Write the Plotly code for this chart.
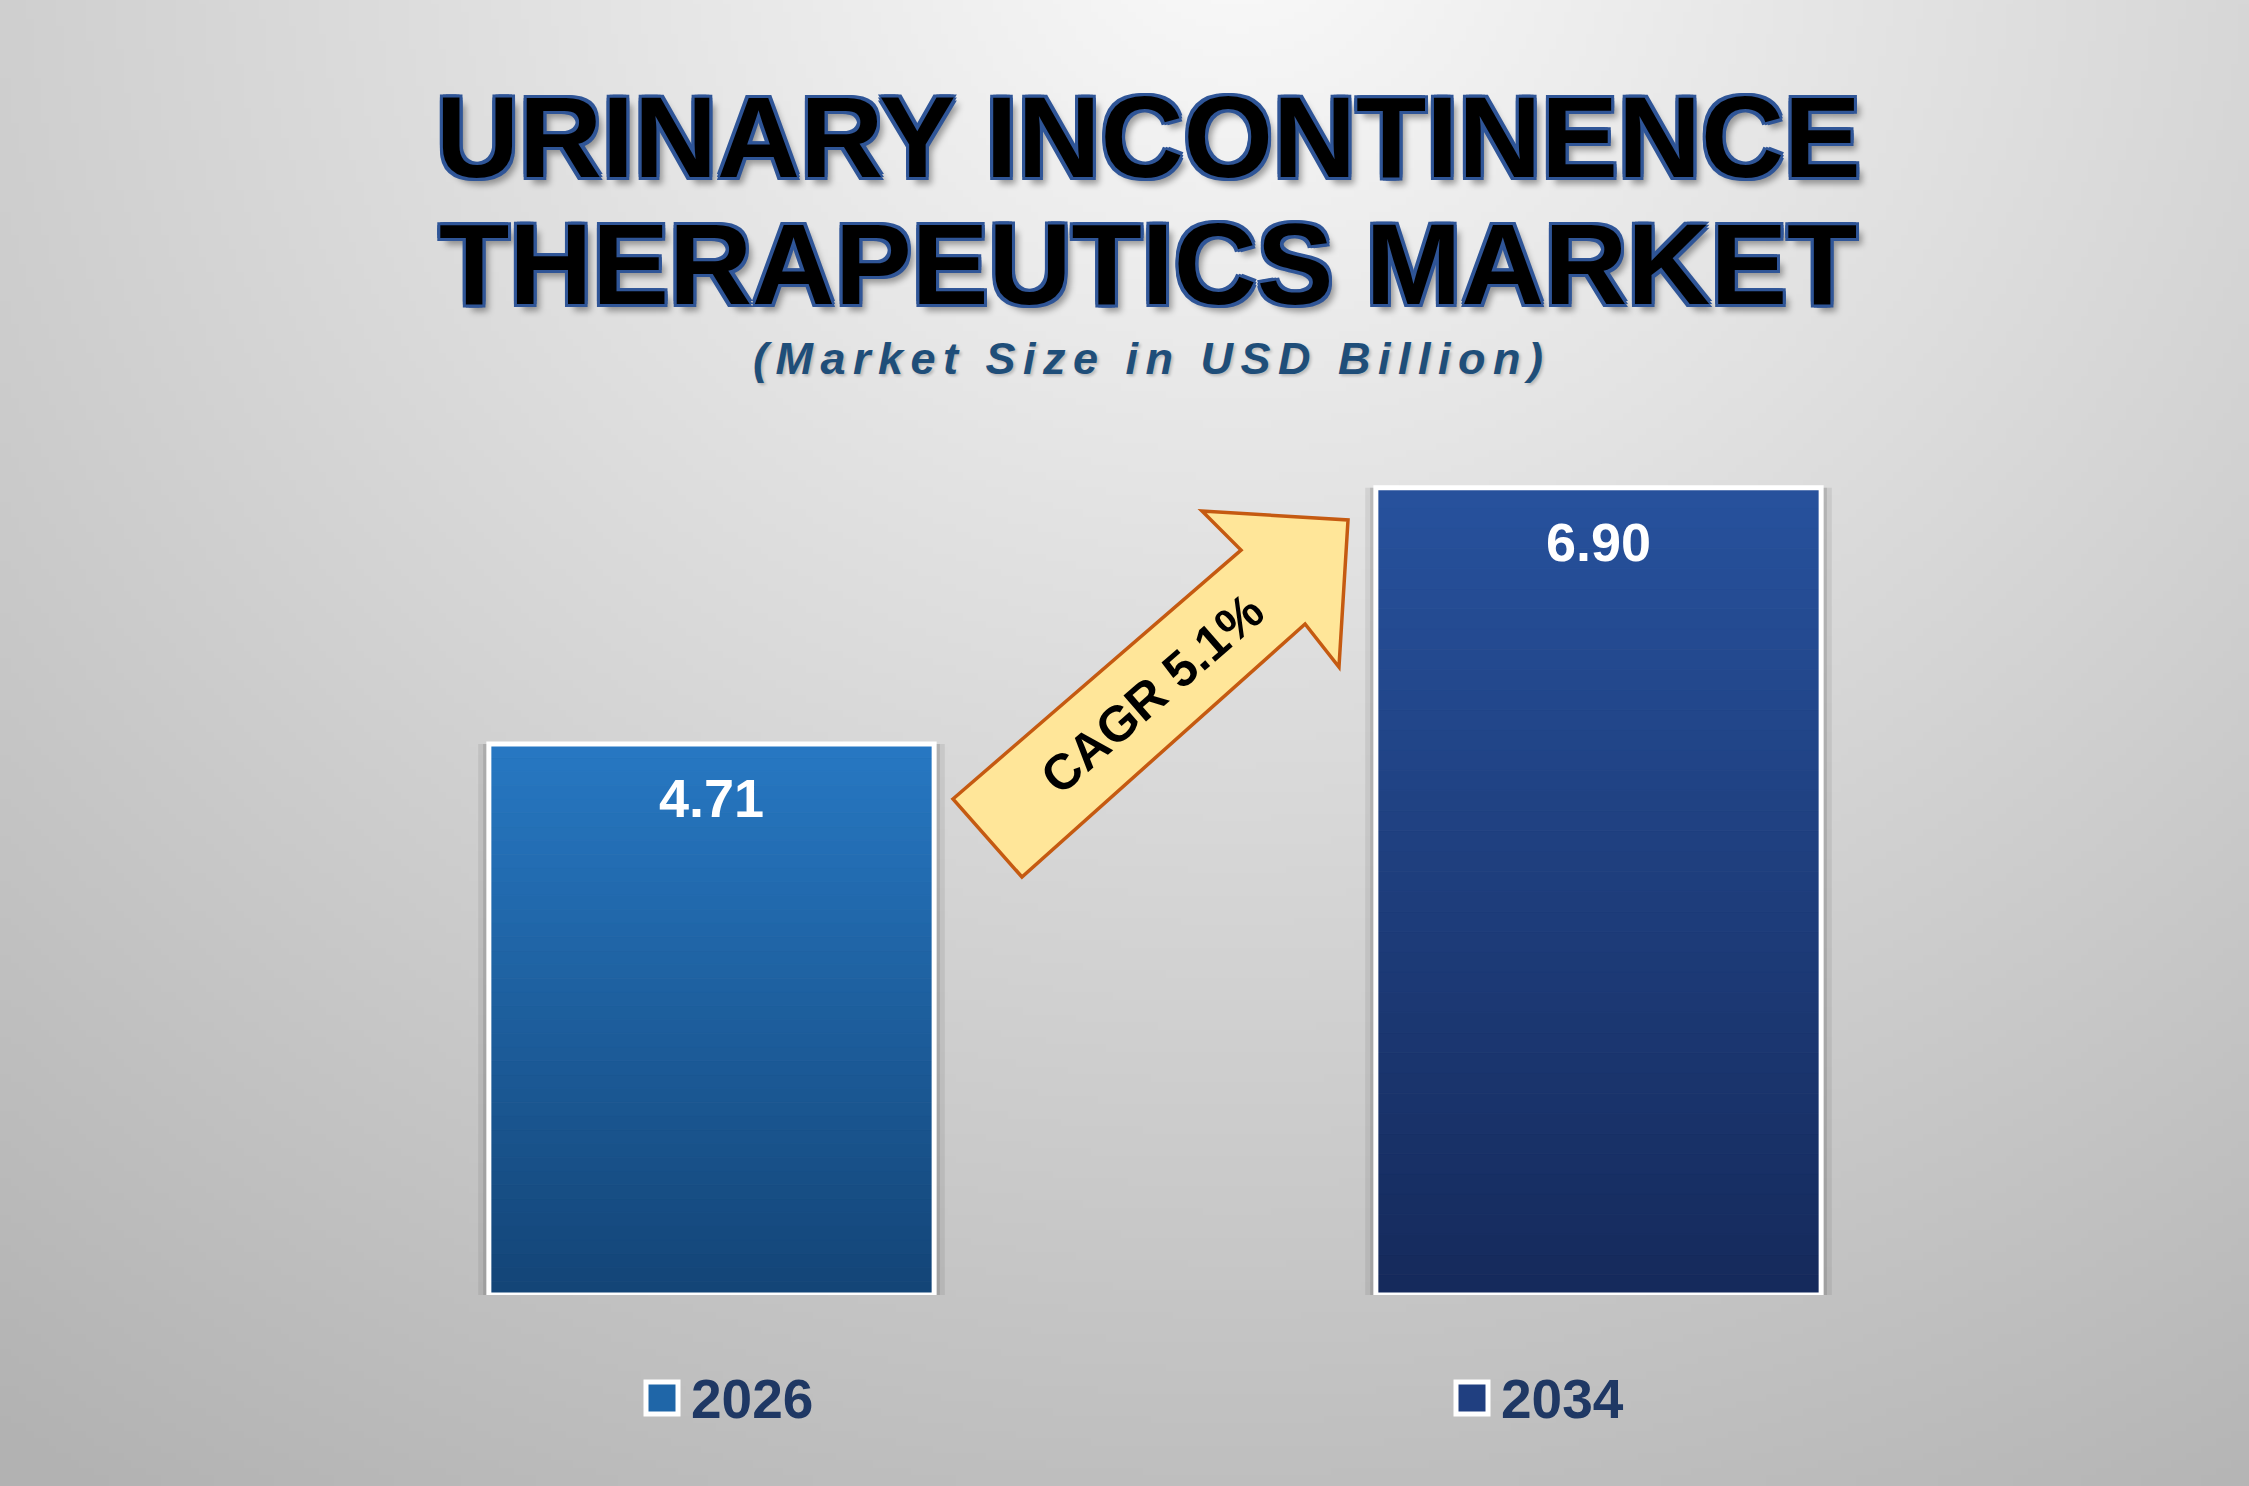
import base64
import struct
import zlib
import plotly.graph_objects as go

# --- data ---
years = ["2026", "2034"]
market_size = [4.71, 6.90]
cagr_label = "CAGR 5.1%"
title_lines = ["URINARY INCONTINENCE", "THERAPEUTICS MARKET"]
subtitle = "(Market Size in USD Billion)"

# --- styling ---
top_colors = ["#2778c3", "#27519d"]
bottom_colors = ["#134476", "#152a5b"]
legend_colors = ["#1f66a8", "#203f80"]
FONT = "Liberation Sans, Arial, sans-serif"

W, H = 2249, 1486
M_L, M_R, M_T, M_B = 268, 207, 359, 191
PW, PH = W - M_L - M_R, H - M_T - M_B
BAR_W = 0.502
N_SEG = 40


def px(x, y):
    # pixel position on the page -> paper coordinates
    return (x - M_L) / PW, (H - M_B - y) / PH


def lerp(c0, c1, t):
    a = [int(c0[i:i + 2], 16) for i in (1, 3, 5)]
    b = [int(c1[i:i + 2], 16) for i in (1, 3, 5)]
    return "rgb(%d,%d,%d)" % tuple(round(a[i] + (b[i] - a[i]) * t) for i in range(3))


def spaced(s, gap="\u2006"):
    # poor man's letter spacing: a narrow space after every character
    return gap.join(s)


def background_png(w, h):
    # soft radial grey, light at the top centre
    rows = []
    for j in range(h):
        y = j / (h - 1)
        row = bytearray([0])
        for i in range(w):
            x = i / (w - 1)
            d = (((x - 0.55) / 0.8) ** 2 + ((y + 0.05) / 1.1) ** 2) ** 0.5
            row.append(max(178, min(250, int(250 - 62 * d))))
        rows.append(bytes(row))
    raw = b"".join(rows)

    def chunk(tag, data):
        c = struct.pack(">I", len(data)) + tag + data
        return c + struct.pack(">I", zlib.crc32(tag + data) & 0xffffffff)

    png = (b"\x89PNG\r\n\x1a\n"
           + chunk(b"IHDR", struct.pack(">IIBBBBB", w, h, 8, 0, 0, 0, 0))
           + chunk(b"IDAT", zlib.compress(raw, 9))
           + chunk(b"IEND", b""))
    return "data:image/png;base64," + base64.b64encode(png).decode()


fig = go.Figure()

# soft shadow behind bars
for extra, alpha in [(0.024, 0.10), (0.013, 0.16)]:
    fig.add_trace(go.Bar(x=years, y=market_size, width=BAR_W + extra,
                         marker=dict(color="rgba(60,60,60,%s)" % alpha, line=dict(width=0)),
                         showlegend=False, hoverinfo="skip"))

# vertical gradient fill built from thin stacked slices
for k in range(N_SEG):
    t = (k + 0.5) / N_SEG
    cols = [lerp(bottom_colors[i], top_colors[i], t) for i in range(len(years))]
    fig.add_trace(go.Bar(x=years, y=[v / N_SEG for v in market_size],
                         base=[v * k / N_SEG for v in market_size], width=BAR_W,
                         marker=dict(color=cols, line=dict(color=cols, width=0.8)),
                         showlegend=False, hoverinfo="skip"))

# white outline on top
fig.add_trace(go.Bar(x=years, y=market_size, width=BAR_W,
                     marker=dict(color="rgba(0,0,0,0)", line=dict(color="white", width=5)),
                     showlegend=False, hovertemplate="%{x}: %{y:.2f}<extra></extra>"))

annotations = []
shapes = []

# value labels inside top of bars
for i, v in enumerate(market_size):
    annotations.append(dict(x=i, y=v, xref="x", yref="y", yshift=-54, showarrow=False,
                            text="<b>%.2f</b>" % v, yanchor="middle",
                            font=dict(family=FONT, size=54, color="white")))

# title
outline = ("3px 3px 0 #2f5597, -3px -3px 0 #2f5597, 3px -3px 0 #2f5597, "
           "-3px 3px 0 #2f5597, 0 3px 0 #2f5597, 0 -3px 0 #2f5597, 3px 0 0 #2f5597, "
           "-3px 0 0 #2f5597, 6px 7px 6px rgba(0,0,0,0.35)")
for line, yy in zip(title_lines, [137, 264]):
    annotations.append(dict(x=px(1148, 0)[0], y=px(0, yy)[1], xref="paper", yref="paper",
                            showarrow=False, text="<b>%s</b>" % line,
                            xanchor="center", yanchor="middle",
                            font=dict(family=FONT, size=115, color="black", shadow=outline)))
annotations.append(dict(x=px(1148, 0)[0], y=px(0, 358)[1], xref="paper", yref="paper",
                        showarrow=False, text="<b><i>%s</i></b>" % spaced(subtitle),
                        xanchor="center", yanchor="middle",
                        font=dict(family=FONT, size=45, color="#1f4e79",
                                  shadow="2px 2px 3px rgba(0,0,0,0.2)")))

# CAGR arrow
arrow_px = [(953, 799), (1241, 550), (1202, 511), (1348, 520),
            (1339, 667), (1305, 624), (1022, 877)]
pts = [px(x, y) for x, y in arrow_px]
path = "M " + " L ".join("%.4f,%.4f" % p for p in pts) + " Z"
shapes.append(dict(type="path", xref="paper", yref="paper", path=path,
                   fillcolor="#ffe699", line=dict(color="#c55a11", width=3.5), layer="above"))
cx, cy = px(1152, 694)
annotations.append(dict(x=cx, y=cy, xref="paper", yref="paper", showarrow=False,
                        text="<b>%s</b>" % cagr_label, textangle=-41,
                        font=dict(family=FONT, size=50, color="black")))

# legend (drawn by hand so the keys can be large)
legend_left = [646, 1456]
for yr, col, lx in zip(years, legend_colors, legend_left):
    x0, y0 = px(lx, 1414)
    x1, y1 = px(lx + 32, 1382)
    shapes.append(dict(type="rect", xref="paper", yref="paper", x0=x0, x1=x1, y0=y0, y1=y1,
                       fillcolor=col, line=dict(color="white", width=5)))
    annotations.append(dict(x=px(lx + 43, 0)[0], y=px(0, 1399)[1], xref="paper", yref="paper",
                            showarrow=False, text="<b>%s</b>" % yr,
                            xanchor="left", yanchor="middle",
                            font=dict(family=FONT, size=55, color="#1f3864")))

x_img, y_img = px(0, 0)
fig.update_layout(
    width=W, height=H,
    margin=dict(l=M_L, r=M_R, t=M_T, b=M_B, pad=0),
    barmode="overlay",
    showlegend=False,
    paper_bgcolor="#d4d4d4",
    plot_bgcolor="rgba(0,0,0,0)",
    xaxis=dict(type="category", range=[-0.5, 1.5], showgrid=False, zeroline=False,
               showticklabels=False, showline=False, fixedrange=True),
    yaxis=dict(range=[0, 8], showgrid=False, zeroline=False, showticklabels=False,
               showline=False, fixedrange=True),
    images=[dict(source=background_png(300, 200), xref="paper", yref="paper",
                 x=x_img, y=y_img, sizex=W / PW, sizey=H / PH,
                 xanchor="left", yanchor="top", sizing="stretch", layer="below")],
    shapes=shapes,
    annotations=annotations,
)

fig.write_html("out.html", config={"displayModeBar": False},
               post_script="document.body.style.margin='0';")
